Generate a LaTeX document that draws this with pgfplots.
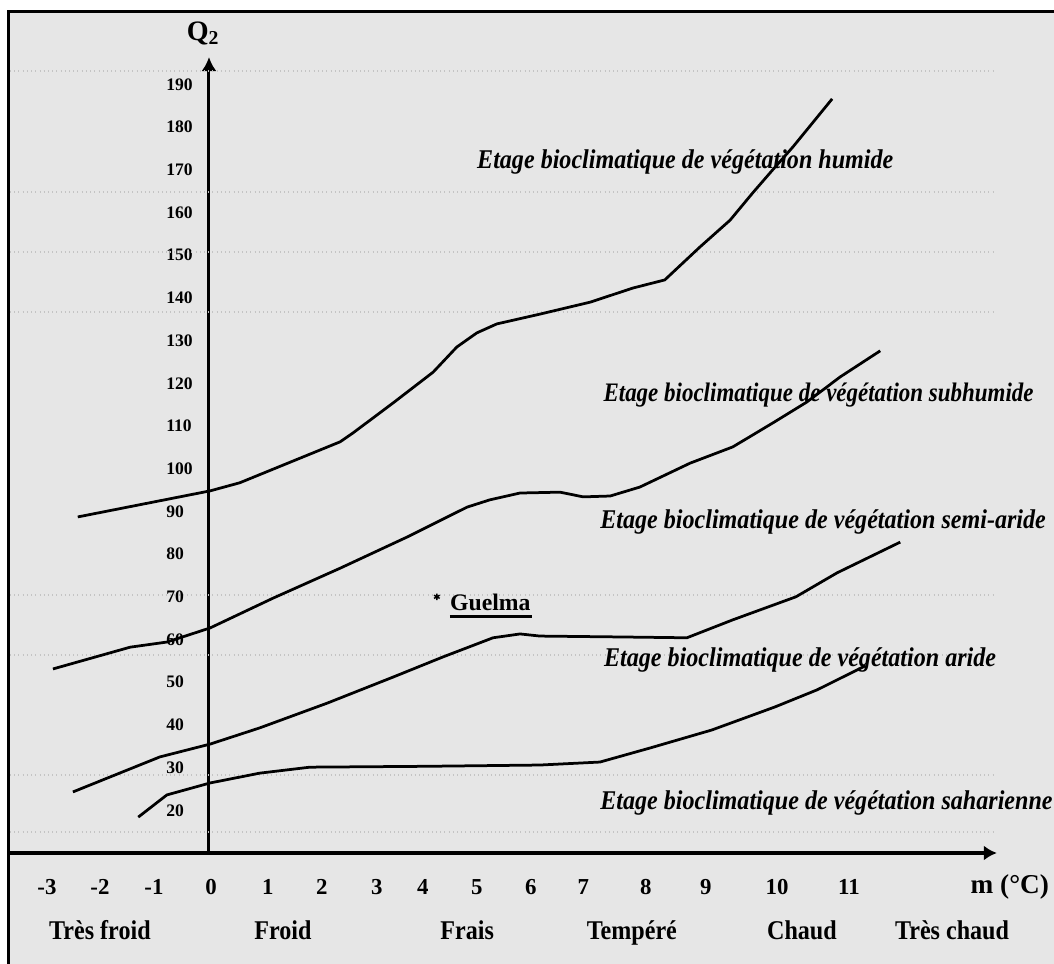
\documentclass[border=0pt]{standalone}
\usepackage{fontspec}
\setmainfont{Liberation Serif}
\newfontfamily\condfont{Liberation Serif}[FakeStretch=0.89]
\newfontfamily\condfontb{Liberation Serif}[FakeStretch=0.86]
\usepackage{pgfplots}
\pgfplotsset{compat=1.18}
\usetikzlibrary{arrows.meta}
\definecolor{bg}{HTML}{E6E6E6}
\definecolor{gridc}{HTML}{C4C4C4}
\newcommand{\fs}[1]{\fontsize{#1}{#1}\selectfont}
\begin{document}
\begin{tikzpicture}
\fill[bg] (-0.04,-2.3) rectangle (21,16.82);
\begin{axis}[
  x=1.08cm, y=0.0854cm,
  xmin=-3.685, xmax=14.59, ymin=10, ymax=196.4,
  axis x line=bottom, axis y line=middle,
  x axis line style={line width=0.075cm, -{Latex[length=0.26cm,width=0.3cm]}},
  y axis line style={line width=0.06cm, -{Latex[length=0.28cm,width=0.3cm]}},
  clip=false,
  hide obscured x ticks=false, hide obscured y ticks=false,
  major tick length=0pt,
  xtick={-3,-2.02,-1.02,0.04,1.09,2.09,3.11,3.96,4.96,5.96,6.93,8.09,9.2,10.52,11.85},
  xticklabels={-3,-2,-1,0,1,2,3,4,5,6,7,8,9,10,11},
  ytick={20,30,...,190},
  /pgf/number format/assume math mode=true,
  xticklabel style={anchor=center, yshift=-0.68cm, font=\bfseries\fs{13}},
  yticklabel style={anchor=west, inner sep=0pt, xshift=-0.86cm, font=\bfseries\fs{10}},
  extra y ticks={14.9,28.3,56.4,70.4,136.7,150.7,164.8,193.1},
  extra y tick labels={},
  extra y tick style={grid=major, major grid style={gridc, dotted, line width=0.03cm}},
]
% Etage humide
\addplot[black, line width=0.055cm] coordinates {
(-2.43,88.7) (0.02,94.8) (0.57,96.7) (2.43,106.3) (2.67,108.4) (3.41,115.4) (4.15,122.6) (4.59,128.5) (4.96,131.8) (5.33,133.9) (6.13,136.2) (7.06,139.0) (7.85,142.3) (8.44,144.2) (9.09,151.9) (9.65,158.2) (10.07,164.6) (10.44,170.0) (10.81,175.3) (11.54,186.6)};
% subhumide
\addplot[black, line width=0.055cm] coordinates {
(-2.89,53.1) (-1.46,58.2) (-0.78,59.4) (0.02,62.7) (1.19,69.7) (2.43,76.7) (3.67,84.0) (4.78,91.0) (5.20,92.7) (5.76,94.3) (6.50,94.5) (6.93,93.4) (7.43,93.6) (7.98,95.7) (8.91,101.3) (9.70,105.1) (10.44,110.7) (11.07,115.6) (11.69,121.5) (12.43,127.6)};
% semi-aride
\addplot[black, line width=0.055cm] coordinates {
(-2.52,24.3) (-0.91,32.5) (0.02,35.5) (0.94,39.3) (2.19,45.1) (3.41,51.2) (4.33,55.9) (5.26,60.4) (5.76,61.3) (6.13,60.8) (7.56,60.6) (8.85,60.4) (9.70,64.6) (10.87,70.0) (11.63,75.6) (12.80,82.8)};
% aride / saharien
\addplot[black, line width=0.055cm] coordinates {
(-1.31,18.4) (-0.78,23.6) (0.02,26.4) (0.94,28.7) (1.87,30.1) (4.0,30.3) (6.13,30.6) (7.24,31.3) (8.17,34.6) (9.31,38.8) (10.48,44.2) (11.26,48.2) (12.15,53.8)};
% Guelma
\addplot[black, only marks, mark=asterisk, mark size=0.065cm, line width=0.03cm] coordinates {(4.22,70.0)};
\node[anchor=west, inner sep=0pt, font=\bfseries\fs{13.5}] at (axis cs:4.46,68.7) {Guelma};
\draw[line width=0.06cm] (axis cs:4.46,65.3) -- (axis cs:5.98,65.3);

\node[anchor=west, inner sep=0pt, font=\condfont\bfseries\itshape\fs{15.4}] at (axis cs:4.96,171.8) {Etage bioclimatique de végétation humide};
\node[anchor=west, inner sep=0pt, font=\condfontb\bfseries\itshape\fs{15.2}] at (axis cs:7.30,117.3) {Etage bioclimatique de végétation subhumide};
\node[anchor=west, inner sep=0pt, font=\condfont\bfseries\itshape\fs{15.4}] at (axis cs:7.24,87.5) {Etage bioclimatique de végétation semi-aride};
\node[anchor=west, inner sep=0pt, font=\condfont\bfseries\itshape\fs{15.4}] at (axis cs:7.31,55.2) {Etage bioclimatique de végétation aride};
\node[anchor=west, inner sep=0pt, font=\condfont\bfseries\itshape\fs{15.4}] at (axis cs:7.24,21.7) {Etage bioclimatique de végétation saharienne};

\node[anchor=base, font=\condfont\bfseries\fs{15.4}] at (axis cs:-2.02,-10.2) {Très froid};
\node[anchor=base, font=\condfont\bfseries\fs{15.4}] at (axis cs:1.37,-10.2) {Froid};
\node[anchor=base, font=\condfont\bfseries\fs{15.4}] at (axis cs:4.78,-10.2) {Frais};
\node[anchor=base, font=\condfont\bfseries\fs{15.4}] at (axis cs:7.83,-10.2) {Tempéré};
\node[anchor=base, font=\condfont\bfseries\fs{15.4}] at (axis cs:10.98,-10.2) {Chaud};
\node[anchor=base, font=\condfont\bfseries\fs{15.4}] at (axis cs:13.76,-10.2) {Très chaud};

\node[font=\bfseries\fs{15.5}] at (axis cs:14.83,2.04) {m (°C)};
\node[font=\bfseries\fs{16}] at (axis cs:-0.11,202) {Q\textsubscript{2}};
\end{axis}
\draw[line width=0.07cm] (-0.03,-2.3) -- (-0.03,16.83) -- (21,16.83);
\pgfresetboundingbox
\useasboundingbox (-0.2,-2.2) rectangle (20.88,17.06);
\end{tikzpicture}
\end{document}
